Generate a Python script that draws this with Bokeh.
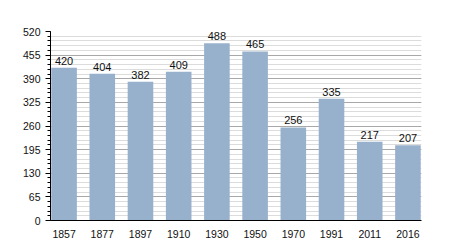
from bokeh.plotting import figure
from bokeh.models import ColumnDataSource, SingleIntervalTicker, Range1d, FactorRange
from bokeh.embed import file_html
from bokeh.resources import INLINE
from bokeh.core.properties import value

years = ["1857", "1877", "1897", "1910", "1930", "1950", "1970", "1991", "2011", "2016"]
population = [420, 404, 382, 409, 488, 465, 256, 335, 217, 207]

BAR_W = 0.67

src = ColumnDataSource(dict(x=years, y=population, lbl=[str(v) for v in population]))

p = figure(width=450, height=250,
           x_range=FactorRange(factors=years, range_padding=-(1 - BAR_W) / 2 + 0.02,
                               range_padding_units="absolute"),
           y_range=Range1d(0, 520), output_backend="svg", toolbar_location=None,
           min_border_left=50, min_border_right=29, min_border_top=31, min_border_bottom=30)
p.outline_line_color = None
p.background_fill_color = "white"

p.vbar(x="x", top="y", width=BAR_W, source=src, fill_color="#97b1cd", line_color=None)
p.text(x="x", y="y", text="lbl", source=src, text_align="center", text_baseline="bottom",
       y_offset=-3, text_font_size="11px", text_color="#111111", text_font=value("Liberation Sans"))

p.yaxis.ticker = SingleIntervalTicker(interval=65, num_minor_ticks=5)
p.ygrid.grid_line_color = "#a8a8a8"
p.ygrid.minor_grid_line_color = "#dcdcdc"
p.xgrid.grid_line_color = None

for ax in (p.xaxis, p.yaxis):
    ax.axis_line_color = "black"
    ax.major_label_text_font_size = "10.5px"
    ax.major_label_text_color = "#111111"
    ax.major_label_text_font = "Liberation Sans"
p.yaxis.major_tick_in = 0
p.yaxis.major_tick_out = 5
p.yaxis.minor_tick_in = 0
p.yaxis.minor_tick_out = 3
p.yaxis.major_tick_line_color = "black"
p.yaxis.minor_tick_line_color = "black"
p.xaxis.major_tick_line_color = None
p.xaxis.minor_tick_line_color = None
p.xaxis.major_label_standoff = 3

open("out.html", "w").write(file_html(p, INLINE))
